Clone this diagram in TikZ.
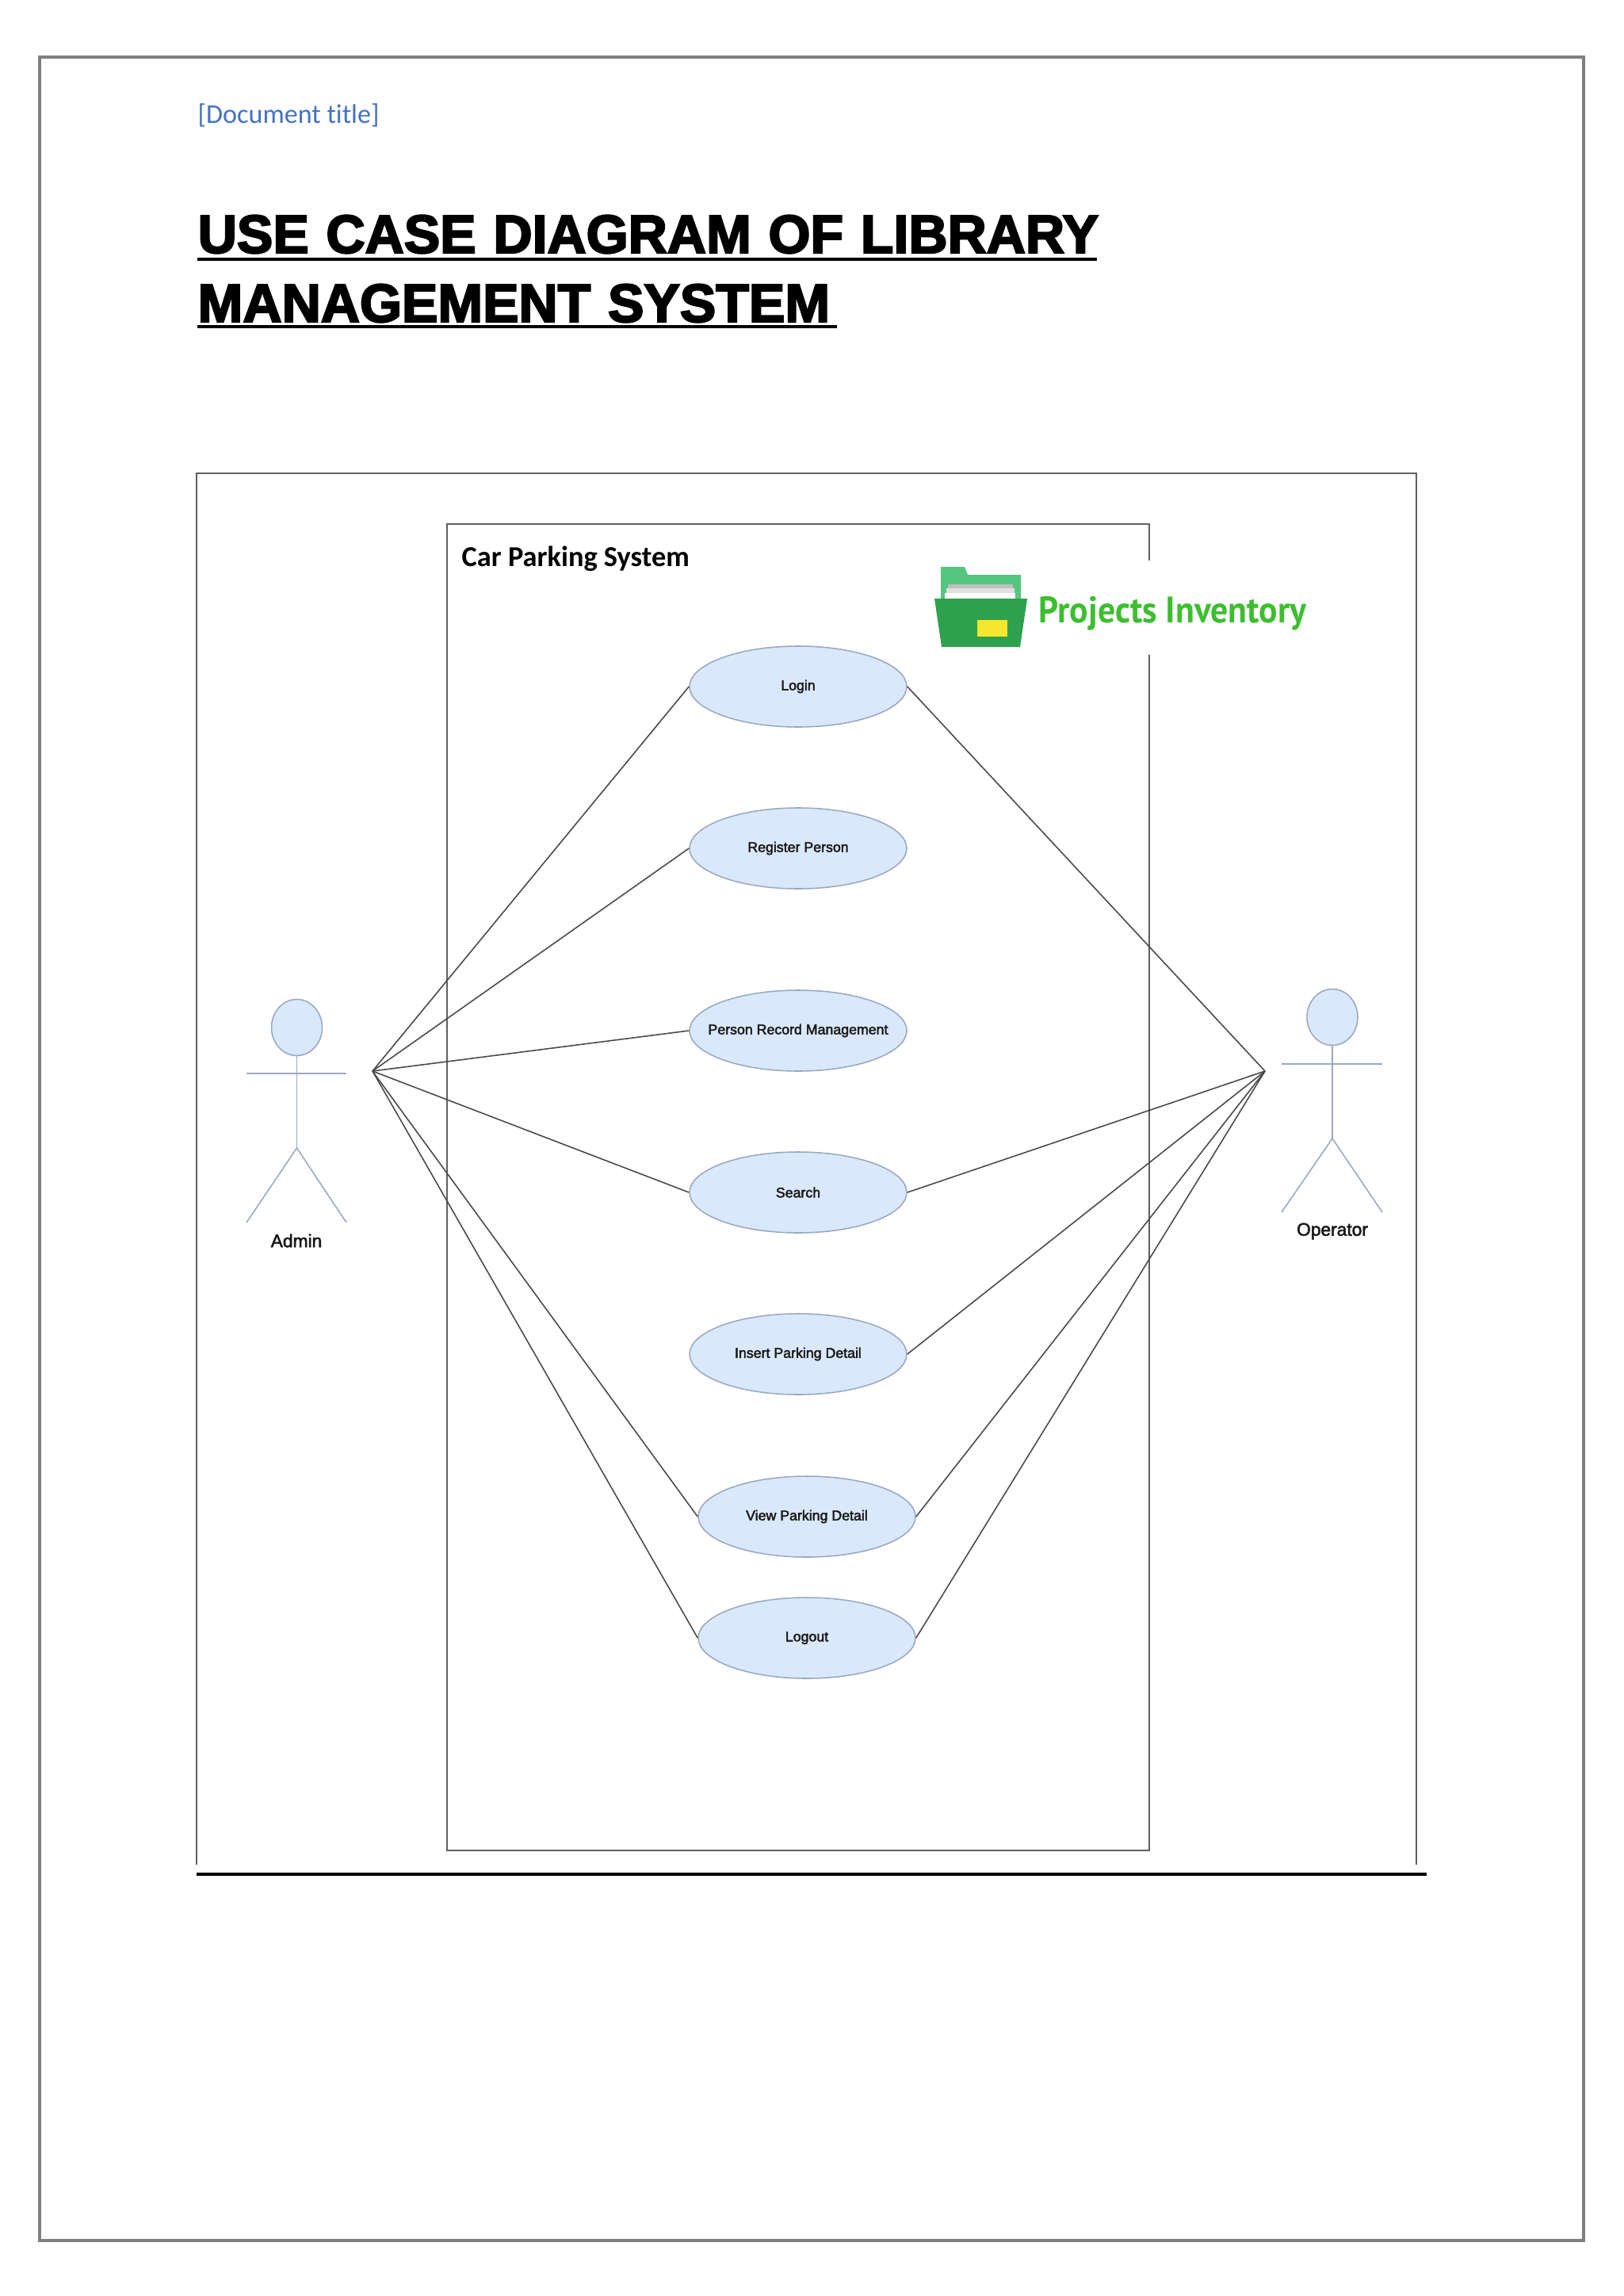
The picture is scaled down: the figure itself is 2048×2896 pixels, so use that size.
\documentclass[tikz,border=0pt]{standalone}
\usepackage{fontspec}
\usepackage{xcolor}
\usetikzlibrary{shapes.geometric}
\setmainfont{Liberation Sans}
\newfontfamily\headfont[FakeBold=3.2,WordSpace=1.15]{Liberation Sans Bold}
\newfontfamily\wordfont[Ligatures=NoCommon]{Carlito}
\newfontfamily\umlfont[FakeBold=2.4]{Liberation Sans}
\newfontfamily\logofont[FakeStretch=0.94]{PT Sans Bold}
\definecolor{pageline}{HTML}{7F7F7F}
\definecolor{boxline}{HTML}{5F5F5F}
\definecolor{usefill}{HTML}{DAE8FC}
\definecolor{useline}{HTML}{9AA8C0}
\definecolor{assoc}{HTML}{484848}
\definecolor{linkblue}{HTML}{4472C4}
\definecolor{logogreen}{HTML}{3DBE2F}
\definecolor{folderback}{HTML}{55C57F}
\definecolor{folderfront}{HTML}{2FA04E}
\definecolor{tagyellow}{HTML}{F5E62E}

\begin{document}
\begin{tikzpicture}[x=0.29pt, y=-0.29pt,
    usecase/.style={draw=useline, fill=usefill, ellipse, line width=0.45pt, minimum width=274*0.29pt, minimum height=102*0.29pt, inner sep=-12pt, font=\umlfont\fontsize{5.15}{6}\selectfont, text=black!90},
    head/.style={draw=useline, fill=usefill, ellipse, line width=0.45pt, minimum width=64*0.29pt, minimum height=71*0.29pt, inner sep=0pt},
    limb/.style={draw=useline, line width=0.45pt},
    actorname/.style={font=\umlfont\fontsize{6.6}{8}\selectfont, text=black!90},
    headline/.style={anchor=base west, inner sep=0pt, font=\headfont\fontsize{19.75}{24}\selectfont},
    headrule/.style={draw=black, line width=1.4pt},
    assocline/.style={draw=assoc, line width=0.45pt}]
    \useasboundingbox (0,0) rectangle (2048,2896);

    % Page
    \fill[white] (0,0) rectangle (2048,2896);
    \draw[pageline, line width=1.4pt] (50,72) rectangle (1998,2826);
    \node[anchor=base west, inner sep=0pt, text=linkblue, font=\wordfont\fontsize{9.9}{12}\selectfont] (doctitle) at (249,156) {[Document title]};

    % Heading
    \node[headline] (headone) at (249,319) {USE CASE DIAGRAM OF LIBRARY};
    \node[headline] (headtwo) at (249,406) {MANAGEMENT SYSTEM};
    \draw[headrule] (249,327) -- (1384,327);
    \draw[headrule] (249,412) -- (1056,412);

    % Frames
    \draw[boxline, line width=0.45pt] (248,2352) -- (248,597) -- (1787,597) -- (1787,2352);
    \draw[boxline, line width=0.55pt] (564,661) rectangle (1450,2334);
    \draw[black, line width=1.2pt] (248,2364) -- (1800,2364);
    \node[anchor=base west, inner sep=0pt, font=\wordfont\bfseries\fontsize{10.55}{12}\selectfont] (system) at (582,714) {Car Parking System};

    % Logo
    \fill[white] (1170,707) rectangle (1660,826);
    \fill[folderback] (1187,715) -- (1217,715) -- (1221,725) -- (1288,725) -- (1288,760) -- (1187,760) -- cycle;
    \fill[black!25] (1196,737) rectangle (1278,742);
    \fill[black!12] (1194,742) rectangle (1280,748);
    \fill[white] (1192,748) rectangle (1281,755);
    \fill[folderfront] (1179,755) -- (1296,755) -- (1287,816) -- (1188,816) -- cycle;
    \fill[tagyellow] (1233,782) rectangle (1271,803);
    \node[anchor=base west, inner sep=0pt, text=logogreen, font=\logofont\fontsize{13.5}{15}\selectfont] (logo) at (1310,785) {Projects Inventory};

    % Use cases
    \node[usecase] (login) at (1007,866) {Login};
    \node[usecase] (register) at (1007,1070) {Register Person};
    \node[usecase] (record) at (1007,1300) {Person Record Management};
    \node[usecase] (search) at (1007,1504) {Search};
    \node[usecase] (insert) at (1007,1708) {Insert Parking Detail};
    \node[usecase] (view) at (1018,1913) {View Parking Detail};
    \node[usecase] (logout) at (1018,2066) {Logout};

    % Admin
    \node[head] (adminhead) at (374.5,1296) {};
    \coordinate (adminhip) at (374.5,1448);
    \coordinate (adminhub) at (470,1351);
    \draw[limb] (adminhead) -- (adminhip);
    \draw[limb] (311,1354) -- (437,1354);
    \draw[limb] (311,1542) -- (adminhip) -- (437,1542);
    \node[actorname] (admin) at (374,1565) {Admin};

    % Operator
    \node[head] (operatorhead) at (1681,1283) {};
    \coordinate (operatorhip) at (1681,1436);
    \coordinate (operatorhub) at (1596,1351);
    \draw[limb] (operatorhead) -- (operatorhip);
    \draw[limb] (1617,1342) -- (1744,1342);
    \draw[limb] (1617,1529) -- (operatorhip) -- (1744,1529);
    \node[actorname] (operator) at (1681,1553) {Operator};

    % Connections
    \draw[assocline] (adminhub) -- (login.west);
    \draw[assocline] (adminhub) -- (register.west);
    \draw[assocline] (adminhub) -- (record.west);
    \draw[assocline] (adminhub) -- (search.west);
    \draw[assocline] (adminhub) -- (view.west);
    \draw[assocline] (adminhub) -- (logout.west);
    \draw[assocline] (operatorhub) -- (login.east);
    \draw[assocline] (operatorhub) -- (search.east);
    \draw[assocline] (operatorhub) -- (insert.east);
    \draw[assocline] (operatorhub) -- (view.east);
    \draw[assocline] (operatorhub) -- (logout.east);
\end{tikzpicture}
\end{document}
